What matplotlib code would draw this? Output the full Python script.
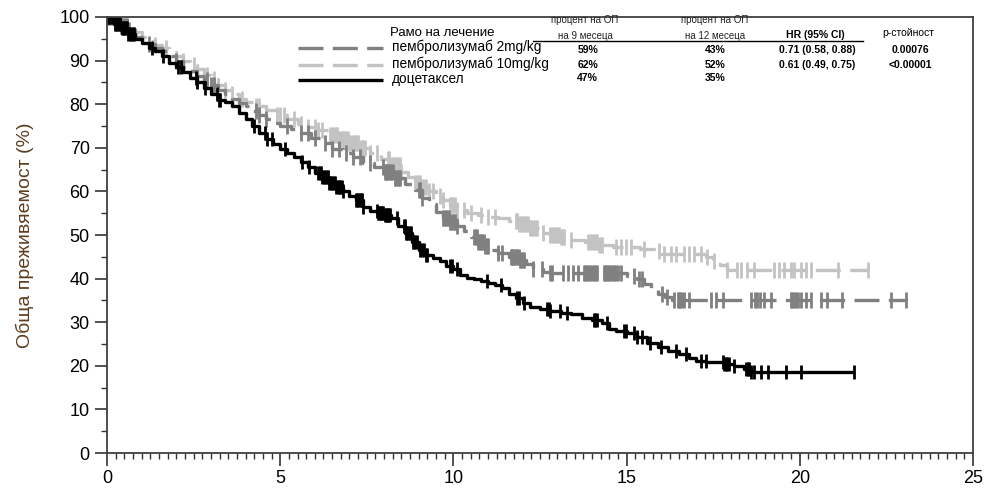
import matplotlib

matplotlib.use("Agg")
import matplotlib.pyplot as plt
import numpy as np
from matplotlib.ticker import MultipleLocator

plt.rcParams["font.family"] = ["Liberation Sans", "DejaVu Sans"]

# Kaplan-Meier steps (months, % alive) per arm
doc_t = [0, 0.2, 0.4, 0.6, 0.8, 1.0, 1.2, 1.4, 1.6, 1.8, 2.0, 2.2, 2.4, 2.6, 2.8,
         3.0, 3.2, 3.4, 3.6, 3.8, 4.0, 4.2, 4.4, 4.6, 4.8, 5.0, 5.2, 5.4, 5.6, 5.8,
         6.0, 6.2, 6.4, 6.6, 6.8, 7.0, 7.2, 7.4, 7.6, 7.8, 8.0, 8.2, 8.4, 8.6, 8.8,
         9.0, 9.2, 9.4, 9.6, 9.8, 10.0, 10.2, 10.4, 10.6, 10.8, 11.0, 11.2, 11.4,
         11.6, 11.8, 12.0, 12.2, 12.5, 12.8, 13.1, 13.4, 13.7, 14.0, 14.3, 14.5,
         14.7, 15.0, 15.3, 15.6, 15.9, 16.2, 16.5, 16.8, 17.0, 17.3, 17.8, 18.1,
         18.4, 18.6]
doc_s = [100, 98.5, 97.5, 96, 95, 94, 93, 92.3, 91, 89.5, 88.5, 87.3, 86, 85, 83.8,
         82.3, 81, 80.5, 79.5, 78, 76.5, 75, 73.5, 72, 70.8, 69.7, 68.8, 67.8, 66.8,
         65.5, 64.3, 63.3, 62, 61, 60, 59, 58, 56.5, 55.5, 55, 54.6, 54, 52, 50.5,
         48.5, 46.6, 45.5, 44.8, 44, 43, 42.2, 40.8, 40.2, 39.8, 39.5, 39, 38.5,
         37.8, 36.5, 35.5, 34.5, 33.5, 33, 32.5, 32.2, 31.8, 31, 30.5, 29.8, 28.5,
         28, 27.5, 26.5, 25.2, 24.3, 23.5, 22.8, 21.8, 21, 20.8, 20.5, 20, 19.2, 18.5]
doc_end = 21.57

p2_t = [0, 0.2, 0.4, 0.6, 0.8, 1.0, 1.2, 1.4, 1.6, 1.8, 2.0, 2.2, 2.4, 2.6, 2.8,
        3.0, 3.2, 3.4, 3.6, 3.8, 4.0, 4.2, 4.4, 4.6, 4.8, 5.0, 5.3, 5.6, 5.9, 6.2,
        6.5, 6.8, 7.1, 7.4, 7.7, 8.0, 8.3, 8.6, 8.9, 9.1, 9.3, 9.5, 9.7, 9.9, 10.1,
        10.3, 10.5, 10.7, 10.9, 11.1, 11.3, 11.6, 11.9, 12.1, 12.3, 12.6, 12.8,
        15.0, 15.3, 15.5, 15.7, 15.9, 16.1, 16.3]
p2_s = [100, 99, 98, 97, 95.5, 94.5, 93.8, 93, 92.2, 91, 89.8, 88.5, 87.5, 86.5,
        85.5, 84.5, 83.3, 82.3, 81.3, 80.3, 79.5, 78.5, 77.5, 76.5, 75.8, 75, 74.2,
        73.3, 72.3, 71, 69.8, 68.8, 67.8, 66.5, 65.5, 64.5, 63, 61.8, 60.3, 58.5,
        57, 55.2, 54, 53, 52, 51, 49.5, 48.3, 47.5, 46.5, 45.8, 45, 44.3, 43.3,
        42.2, 41.5, 41.2, 40.6, 39.8, 38.8, 37.8, 36.5, 35.8, 35.2]
p2_end = 23.1

p10_t = [0, 0.2, 0.4, 0.6, 0.8, 1.0, 1.2, 1.4, 1.6, 1.8, 2.0, 2.2, 2.4, 2.6, 2.8,
         3.0, 3.2, 3.4, 3.6, 3.8, 4.0, 4.3, 4.6, 4.9, 5.2, 5.5, 5.8, 6.1, 6.4, 6.7,
         7.0, 7.3, 7.6, 7.9, 8.2, 8.5, 8.7, 8.9, 9.1, 9.3, 9.5, 9.7, 9.9, 10.1,
         10.4, 10.7, 11.0, 11.3, 11.6, 11.9, 12.2, 12.5, 12.8, 13.1, 13.4, 13.8,
         14.2, 14.6, 15.4, 15.8, 16.0, 17.3, 17.5, 17.7, 17.9]
p10_s = [100, 99, 98, 97.3, 96.5, 95.5, 94.5, 93.6, 92.8, 92, 91, 90, 89, 88, 86.8,
         85.8, 84.5, 83.3, 82.3, 81.3, 80.5, 79.5, 78.6, 77.6, 76.5, 75.5, 74.8, 74,
         73, 72, 71, 70, 68.8, 67.5, 66, 64.5, 63.2, 62, 61, 60, 59, 58, 56.8, 55.7,
         55, 54.6, 54.2, 53.8, 53.2, 52.5, 51.5, 50.5, 50, 49.5, 48.9, 48.3, 47.8,
         47.3, 46.8, 46.3, 45.6, 45, 44, 43.2, 42]
p10_end = 21.96

# censored patients (months)
doc_cens = [0.02, 0.06, 0.1, 0.14, 0.18, 0.22, 0.26, 0.3, 0.34, 0.38, 0.42, 0.46,
            0.5, 0.54, 0.58, 0.62, 0.66, 0.7, 0.74, 0.78, 1.29, 1.63, 2.06, 2.14,
            2.56, 2.6, 2.83, 3.17, 3.22, 3.27, 4.23, 4.57, 4.63, 4.76, 5.14, 5.63,
            5.82, 6.1, 6.14, 6.18, 6.22, 6.26, 6.3, 6.34, 6.38, 6.42, 6.46, 6.5,
            6.54, 6.58, 6.62, 6.66, 6.7, 6.74, 6.78, 6.82, 7.2, 7.23, 7.26, 7.29,
            7.32, 7.36, 7.4, 7.79, 7.82, 7.85, 7.88, 7.92, 7.95, 7.98, 8.02, 8.05,
            8.08, 8.12, 8.15, 8.18, 8.37, 8.56, 8.59, 8.62, 8.66, 8.7, 8.74, 8.78,
            8.82, 8.86, 8.9, 8.95, 9.05, 9.1, 9.15, 9.2, 9.24, 9.91, 9.95, 10.1,
            10.97, 11.36, 11.84, 11.88, 12.03, 12.71, 12.75, 12.8, 13.09, 13.29,
            14.05, 14.1, 14.15, 14.44, 14.92, 14.97, 15.21, 15.31, 15.45, 15.69,
            15.98, 16.42, 16.71, 17.14, 17.28, 17.77, 17.8, 17.86, 17.9, 17.96, 18.1,
            18.44, 18.5, 18.54, 18.6, 18.68, 18.87, 19.07, 19.6, 20.03, 21.57]
p2_cens = [0.04, 0.1, 0.16, 0.22, 0.28, 0.34, 0.4, 0.46, 0.52, 0.58, 0.64, 1.2, 2.0,
           2.9, 3.0, 3.1, 4.3, 4.4, 4.6, 5.2, 5.6, 5.8, 6.0, 6.3, 6.5, 6.7, 6.9, 7.1,
           7.3, 7.6, 7.98, 8.02, 8.05, 8.08, 8.12, 8.16, 8.2, 8.25, 8.3, 8.35, 8.4,
           8.44, 8.47, 9.0, 9.05, 9.1, 9.7, 9.74, 9.78, 9.82, 9.86, 9.9, 9.94, 9.98,
           10.02, 10.06, 10.1, 10.6, 10.64, 10.68, 10.72, 10.76, 10.8, 10.84,
           10.88, 10.92, 10.96, 11.0, 11.3, 11.4, 11.65, 11.68, 11.72, 11.76, 11.8,
           11.84, 11.88, 11.92, 11.96, 12.0, 12.03, 12.3, 12.55, 12.8, 12.85,
           13.15, 13.3, 13.45, 13.6, 13.76, 13.8, 13.85, 13.9, 13.95, 14.0, 14.05,
           14.1, 14.15, 14.34, 14.38, 14.42, 14.46, 14.5, 14.55, 14.6, 14.65, 14.7,
           14.76, 14.83, 15.2, 15.35, 15.45, 16.03, 16.18, 16.37, 16.47, 16.5,
           16.55, 16.6, 16.66, 16.8, 17.43, 17.57, 17.77, 18.58, 18.7, 18.77,
           18.85, 18.96, 19.16, 19.74, 19.78, 19.83, 19.9, 19.96, 20.03, 20.17,
           20.32, 20.61, 20.8, 21.23, 22.63, 23.06]
p10_cens = [0.04, 0.1, 0.16, 0.22, 0.28, 0.34, 0.4, 0.46, 0.52, 0.58, 1.4, 1.7, 2.2,
            2.5, 2.9, 3.1, 3.4, 3.6, 3.9, 4.3, 4.4, 4.9, 5.0, 5.1, 5.4, 5.6, 5.8,
            6.0, 6.1, 6.2, 6.45, 6.5, 6.55, 6.6, 6.65, 6.7, 6.75, 6.8, 6.85, 6.9,
            6.95, 7.0, 7.05, 7.1, 7.15, 7.2, 7.25, 7.3, 7.35, 7.4, 7.45, 7.6, 7.8,
            8.1, 8.15, 8.2, 8.25, 8.3, 8.35, 8.4, 8.45, 8.5, 8.9, 8.95, 9.0, 9.05,
            9.1, 9.15, 9.2, 9.3, 9.4, 9.6, 9.7, 9.9, 9.95, 10.0, 10.05, 10.1, 10.3,
            10.5, 10.8, 11.0, 11.2, 11.8, 11.85, 11.9, 11.95, 12.0, 12.05, 12.1,
            12.15, 12.2, 12.25, 12.3, 12.35, 12.4, 12.6, 12.8, 12.85, 12.9, 12.95,
            13.0, 13.05, 13.1, 13.15, 13.2, 13.4, 13.9, 13.95, 14.0, 14.05, 14.1,
            14.15, 14.2, 14.25, 14.3, 14.68, 14.83, 14.97, 15.12, 15.5, 15.93,
            16.08, 16.27, 16.42, 16.66, 16.8, 16.95, 17.14, 17.33, 17.52, 17.91,
            18.2, 18.29, 18.49, 18.68, 19.26, 19.4, 19.55, 19.74, 19.83, 20.03,
            20.17, 20.32, 21.09, 21.96]

arm_names = ["пембролизумаб 2mg/kg", "пембролизумаб 10mg/kg", "доцетаксел"]
os9 = ["59%", "62%", "47%"]
os12 = ["43%", "52%", "35%"]
hr_ci = ["0.71 (0.58, 0.88)", "0.61 (0.49, 0.75)", ""]
p_vals = ["0.00076", "<0.00001", ""]

C_P2 = "#808080"
C_P10 = "#c3c3c3"
C_DOC = "#000000"
DASH = (7.5, 2.8)


def km_curve(ax, t, s, t_end, cens, color, lw, dashed, msize):
    tt = list(t) + [t_end]
    ss = list(s) + [s[-1]]
    line, = ax.step(tt, ss, where="post", color=color, lw=lw, solid_capstyle="butt")
    if dashed:
        line.set_dashes(DASH)
    cens = np.asarray(cens)
    idx = np.searchsorted(np.asarray(t), cens, side="right") - 1
    ax.plot(cens, np.asarray(s)[idx], ls="none", marker="|", ms=msize,
            mew=2.0, color=color)


fig = plt.figure(figsize=(9.88, 4.95), dpi=100)
ax = fig.add_axes([0.1083, 0.0848, 0.8765, 0.8809])

km_curve(ax, p10_t, p10_s, p10_end, p10_cens, C_P10, 2.4, True, 11)
km_curve(ax, p2_t, p2_s, p2_end, p2_cens, C_P2, 2.4, True, 11)
km_curve(ax, doc_t, doc_s, doc_end, doc_cens, C_DOC, 2.4, False, 10)

ax.set_xlim(0, 25)
ax.set_ylim(0, 100)
ax.xaxis.set_major_locator(MultipleLocator(5))
ax.xaxis.set_minor_locator(MultipleLocator(0.25))
ax.yaxis.set_major_locator(MultipleLocator(10))
ax.yaxis.set_minor_locator(MultipleLocator(5))
ax.tick_params(which="major", length=9, width=1.2, labelsize=13, color="#333333")
ax.tick_params(which="minor", length=4.5, width=1.0, color="#333333")
for sp in ax.spines.values():
    sp.set_color("#404040")
    sp.set_linewidth(1.3)
ax.set_ylabel("Обща преживяемост (%)", fontsize=14, color="#5e3d1f", labelpad=18)

# legend block drawn in axes coordinates
tr = ax.transAxes
ax.text(0.327, 0.963, "Рамо на лечение", transform=tr, fontsize=9.5, va="center")
leg_y = [0.929, 0.890, 0.8555]
for y, col, dashed, name in zip(leg_y, [C_P2, C_P10, C_DOC], [True, True, False],
                                arm_names):
    ln, = ax.plot([0.2206, 0.3187], [y, y], transform=tr, color=col, lw=2.4,
                  solid_capstyle="butt")
    if dashed:
        ln.set_dashes(DASH)
    ax.text(0.329, y + 0.003, name, transform=tr, fontsize=9.8, va="center")

hdr_kw = dict(transform=tr, fontsize=7, ha="center", va="center", color="#222222")
ax.text(0.552, 0.992, "процент на ОП", **hdr_kw)
ax.text(0.552, 0.956, "на 9 месеца", **hdr_kw)
ax.text(0.702, 0.992, "процент на ОП", **hdr_kw)
ax.text(0.702, 0.956, "на 12 месеца", **hdr_kw)
ax.text(0.818, 0.958, "HR (95% CI)", transform=tr, fontsize=7.5, ha="center",
        va="center", fontweight="bold")
ax.text(0.925, 0.963, "р-стойност", transform=tr, fontsize=7.5, ha="center",
        va="center")
ax.plot([0.492, 0.873], [0.945, 0.945], transform=tr, color="black", lw=1.0)

row_y = [0.924, 0.890, 0.860]
for y, a, b, hr, pv in zip(row_y, os9, os12, hr_ci, p_vals):
    ax.text(0.555, y, a, transform=tr, fontsize=7.5, ha="center", va="center",
            fontweight="bold")
    ax.text(0.702, y, b, transform=tr, fontsize=7.5, ha="center", va="center",
            fontweight="bold")
    ax.text(0.820, y, hr, transform=tr, fontsize=7.5, ha="center", va="center",
            fontweight="bold")
    ax.text(0.928, y, pv, transform=tr, fontsize=7.5, ha="center", va="center",
            fontweight="bold")

fig.savefig("out.png", dpi=100)
